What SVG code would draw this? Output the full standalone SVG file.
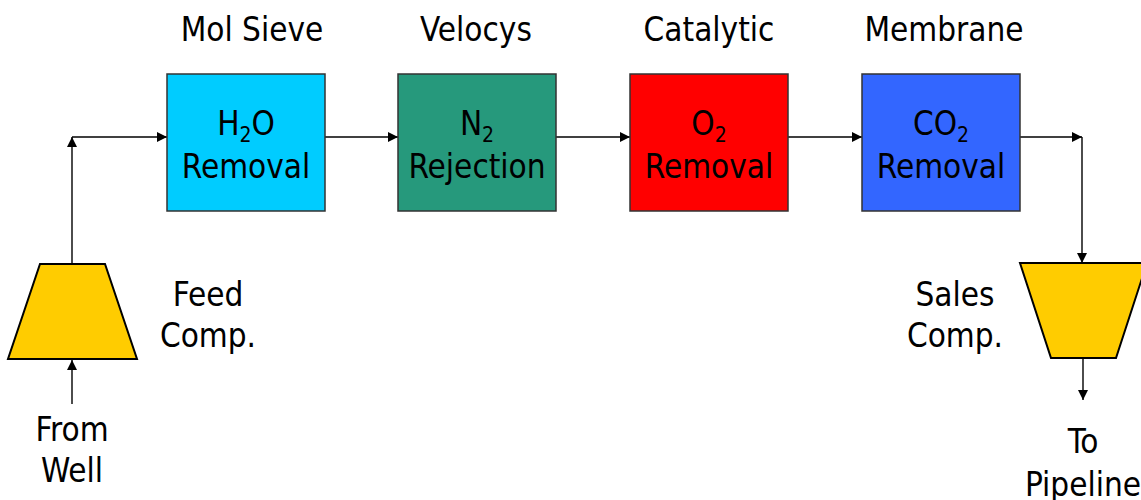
<svg xmlns="http://www.w3.org/2000/svg" width="1141" height="500" viewBox="0 0 1141 500">
  <style>
    text { font-family: "DejaVu Sans Condensed", "DejaVu Sans", sans-serif; font-size: 33px; fill: #000; text-anchor: middle; }
    .sub { font-size: 21px; }
    .box { stroke: #333; stroke-width: 1.5; }
    .comp { fill: #FFCC00; stroke: #000; stroke-width: 2; }
    .flow { fill: none; stroke: #000; stroke-width: 1.4; marker-end: url(#arrow); }
  </style>
  <defs>
    <marker id="arrow" viewBox="0 0 10 10" refX="10" refY="5" markerWidth="10" markerHeight="10" markerUnits="userSpaceOnUse" orient="auto">
      <path d="M0,0 L10,5 L0,10 Z" fill="#000"/>
    </marker>
  </defs>
  <rect width="1141" height="500" fill="#fff"/>

  <g id="connectors">
    <path class="flow" d="M72,404 L72,360"/>
    <path class="flow" d="M72,264 L72,137"/>
    <path class="flow" d="M72,137 L167,137"/>
    <path class="flow" d="M325,137 L398,137"/>
    <path class="flow" d="M556,137 L630,137"/>
    <path class="flow" d="M788,137 L862,137"/>
    <path class="flow" d="M1020,137 L1082,137"/>
    <path class="flow" d="M1082,137 L1082,263"/>
    <path class="flow" d="M1083,358 L1083,400"/>
  </g>

  <g id="feed-comp">
    <polygon class="comp" points="40,264 105,264 137,359 8,359"/>
    <text x="208" y="306">Feed</text>
    <text x="208" y="347">Comp.</text>
  </g>

  <g id="from-well">
    <text x="72" y="441">From</text>
    <text x="72" y="482">Well</text>
  </g>

  <g id="h2o-removal">
    <text x="252" y="41">Mol Sieve</text>
    <rect class="box" x="167" y="74" width="158" height="137" fill="#00CCFF"/>
    <text x="246" y="135">H<tspan class="sub" dy="7">2</tspan><tspan dy="-7">O</tspan></text>
    <text x="246" y="178">Removal</text>
  </g>

  <g id="n2-rejection">
    <text x="476" y="41">Velocys</text>
    <rect class="box" x="398" y="74" width="158" height="137" fill="#26997C"/>
    <text x="477" y="135">N<tspan class="sub" dy="7">2</tspan></text>
    <text x="477" y="178">Rejection</text>
  </g>

  <g id="o2-removal">
    <text x="709" y="41">Catalytic</text>
    <rect class="box" x="630" y="74" width="158" height="137" fill="#FF0000"/>
    <text x="709" y="135">O<tspan class="sub" dy="7">2</tspan></text>
    <text x="709" y="178">Removal</text>
  </g>

  <g id="co2-removal">
    <text x="944" y="41">Membrane</text>
    <rect class="box" x="862" y="74" width="158" height="137" fill="#3366FF"/>
    <text x="941" y="135">CO<tspan class="sub" dy="7">2</tspan></text>
    <text x="941" y="178">Removal</text>
  </g>

  <g id="sales-comp">
    <polygon class="comp" points="1020,263 1147,263 1116,358 1051,358"/>
    <text x="955" y="306">Sales</text>
    <text x="955" y="347">Comp.</text>
  </g>

  <g id="to-pipeline">
    <text x="1083" y="453">To</text>
    <text x="1083" y="496">Pipeline</text>
  </g>
</svg>
